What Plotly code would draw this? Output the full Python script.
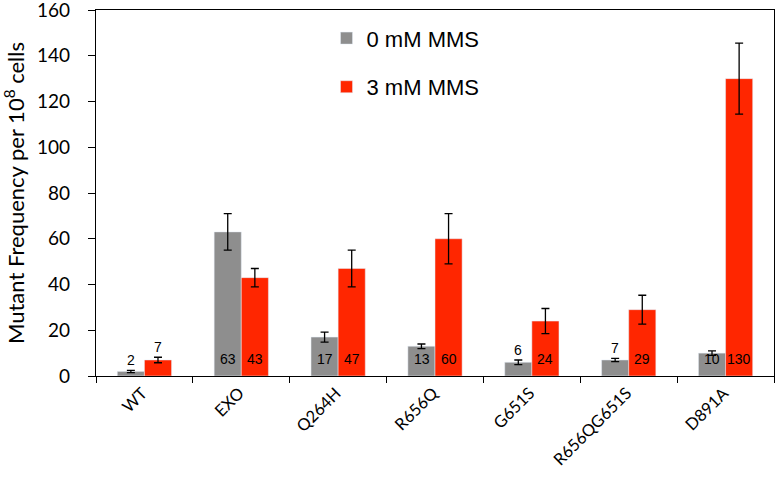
import plotly.graph_objects as go

categories = ["WT", "EXO", "Q264H", "R656Q", "G651S", "R656QG651S", "D891A"]
mms0 = [2, 63, 17, 13, 6, 7, 10]
mms0_err = [0.5, 8, 2.2, 1, 1, 0.7, 1]
mms3 = [7, 43, 47, 60, 24, 29, 130]
mms3_err = [1.2, 4, 8, 11, 5.5, 6.3, 15.5]
label_outside0 = [True, False, False, False, True, True, False]
label_outside3 = [True, False, False, False, False, False, False]

GRAY = "#8E8E8E"
RED = "#FF2600"

fig = go.Figure()
fig.add_trace(go.Bar(
    x=categories, y=mms0, name="0 mM MMS", marker_color=GRAY,
    legendgroup="a",
    error_y=dict(type="data", array=mms0_err, color="black", thickness=1.3, width=4),
))
fig.add_trace(go.Bar(
    x=categories, y=mms3, name="3 mM MMS", marker_color=RED,
    legendgroup="b",
    error_y=dict(type="data", array=mms3_err, color="black", thickness=1.3, width=4),
))

BAR_OFF = 13.5
for vals, errs, outs, shift in [(mms0, mms0_err, label_outside0, -BAR_OFF),
                                 (mms3, mms3_err, label_outside3, BAR_OFF)]:
    for c, v, e, o in zip(categories, vals, errs, outs):
        if o:
            fig.add_annotation(x=c, y=v + e, text=str(v), showarrow=False,
                               xshift=shift, yanchor="bottom", yshift=0,
                               font=dict(family="Liberation Sans", size=14, color="black"))
        else:
            fig.add_annotation(x=c, y=0, text=str(v), showarrow=False,
                               xshift=shift, yanchor="bottom", yshift=7,
                               font=dict(family="Liberation Sans", size=14, color="black"))

fig.update_layout(
    width=779, height=482,
    margin=dict(l=96, r=5, t=10, b=106),
    paper_bgcolor="white", plot_bgcolor="white",
    barmode="group", bargap=0.44, bargroupgap=0,
    font=dict(family="Lato", color="black"),
    showlegend=True,
    legend=dict(x=0.34, y=0.98, xanchor="left", yanchor="top",
                font=dict(family="Liberation Sans", size=22, color="black"),
                tracegroupgap=17, bgcolor="rgba(0,0,0,0)"),
)
fig.update_xaxes(
    automargin=False,
    showline=True, linecolor="black", linewidth=1.2, mirror=True,
    ticks="outside", tickson="boundaries", ticklen=6, tickcolor="black",
    tickangle=-45, ticklabelshift=-2,
    tickfont=dict(family="Lato", size=16.5, color="black"),
)
fig.update_yaxes(
    automargin=False, ticklabeloverflow="allow", ticklabelstandoff=14,
    range=[0, 160], dtick=20, showgrid=False, zeroline=False,
    showline=True, linecolor="black", linewidth=1.2, mirror=True,
    ticks="outside", ticklen=7, tickcolor="black",
    tickfont=dict(family="Lato", size=19, color="black"),
    title=dict(text="Mutant Frequency per 10<sup>8</sup> cells",
               font=dict(family="Lato", size=22, color="black"), standoff=6),
)

fig.write_html("out.html", config={"displayModeBar": False},
               post_script="document.body.style.margin='0';")
